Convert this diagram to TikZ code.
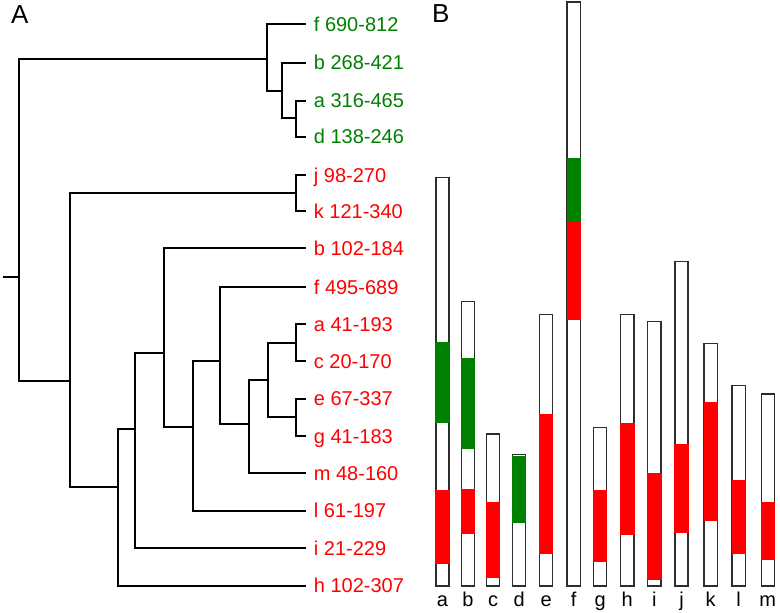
\documentclass[tikz,border=0pt]{standalone}
\usepackage{fontspec}
\setmainfont{Liberation Sans}
\definecolor{verde}{RGB}{0,128,0}
\definecolor{rojo}{RGB}{255,0,0}
\definecolor{borde}{RGB}{45,45,45}

\begin{document}
\begin{tikzpicture}[x=1pt,y=-1pt,
    rama/.style={line width=2pt, black},
    hoja/.style={anchor=west, inner xsep=8pt, inner ysep=0pt, text height=14.3pt, text depth=0pt, font=\fontsize{20}{24}\selectfont},
    hojaV/.style={hoja, text=verde},
    hojaR/.style={hoja, text=rojo},
    barra/.style={draw=borde, line width=1.3pt, fill=white},
    etiq/.style={anchor=base, inner sep=0pt, font=\fontsize{20}{24}\selectfont},
    panel/.style={anchor=base west, inner sep=0pt, font=\fontsize{26}{30}\selectfont}]

    \useasboundingbox (0,0) rectangle (780,613);

    % Paneles
    \node[panel] (pA) at (11,23.3) {A};
    \node[panel] (pB) at (432,22.7) {B};

    % Hojas
    \foreach \nm/\y/\txt in {gf/24.3/f 690-812, gb/62.7/b 268-421, ga/100.5/a 316-465, gd/136.7/d 138-246}
        \node[hojaV] (\nm) at (305.7,\y) {\txt};
    \foreach \nm/\y/\txt in {rj/175/j 98-270, rk/211/k 121-340, rb/248/b 102-184, rf/287/f 495-689,
        ra/324/a 41-193, rc/361.3/c 20-170, re/398.7/e 67-337, rg/436/g 41-183,
        rm/473.3/m 48-160, rl/510.7/l 61-197, ri/548.3/i 21-229, rh/585.7/h 102-307}
        \node[hojaR] (\nm) at (305.7,\y) {\txt};

    % Nodos internos
    \coordinate (r0) at (3,276.7);
    \coordinate (r) at (19,276.7);
    \coordinate (nv1) at (267.3,59.3);
    \coordinate (nv2) at (281.7,91);
    \coordinate (nv3) at (296,118.3);
    \coordinate (nr1) at (70,381);
    \coordinate (nr2) at (296,192.7);
    \coordinate (nr3) at (118.3,486.7);
    \coordinate (nr4) at (135,429.3);
    \coordinate (nr5) at (164,352.7);
    \coordinate (nr6) at (193.3,426.7);
    \coordinate (nr7) at (220,361);
    \coordinate (nr8) at (248.5,424.3);
    \coordinate (nr9) at (268.3,380);
    \coordinate (nr10) at (296,342.7);
    \coordinate (nr11) at (296,417.3);

    % Arbol
    \draw[rama] (r0) -- (r);
    \foreach \p/\c in {r/nv1, r/nr1, nv1/gf, nv1/nv2, nv2/gb, nv2/nv3, nv3/ga, nv3/gd,
        nr1/nr2, nr1/nr3, nr2/rj, nr2/rk, nr3/nr4, nr3/rh, nr4/nr5, nr4/ri,
        nr5/rb, nr5/nr6, nr6/nr7, nr6/rl, nr7/rf, nr7/nr8, nr8/nr9, nr8/rm,
        nr9/nr10, nr9/nr11, nr10/ra, nr10/rc, nr11/re, nr11/rg}
        \draw[rama] (\p) |- (\c);

    % Barras
    \foreach \n/\cx/\tope in {a/442.5/177.7, b/468/301.3, c/493.2/434, d/519.2/454.7,
        e/546.2/314.3, f/573.7/2, g/600.2/427.3, h/627.3/314.3, i/654.3/321.7,
        j/681.5/261.7, k/710.7/343.7, l/738.7/385.3, m/767.8/394} {
        \draw[barra] (\cx-6.6,586) rectangle (\cx+6.6,\tope);
        \node[etiq] (b\n) at (\cx,606) {\n};
    }

    % Tramos verdes
    \foreach \cx/\ya/\yb in {442.5/342.3/423, 468/357.7/448.7, 519.2/456/522.7, 573.7/158.3/220.7}
        \fill[verde] (\cx-7.2,\ya) rectangle (\cx+7.2,\yb);

    % Tramos rojos
    \foreach \cx/\ya/\yb in {442.5/490/564, 468/489/534, 493.2/502.3/578.3, 546.2/413.7/553.7,
        573.7/220.7/320.3, 600.2/490/562.3, 627.3/423/534.7, 654.3/473/580.3,
        681.5/444/533.3, 710.7/401.7/520.7, 738.7/480.3/553.7, 767.8/502.3/559.7}
        \fill[rojo] (\cx-7.2,\ya) rectangle (\cx+7.2,\yb);

\end{tikzpicture}
\end{document}
